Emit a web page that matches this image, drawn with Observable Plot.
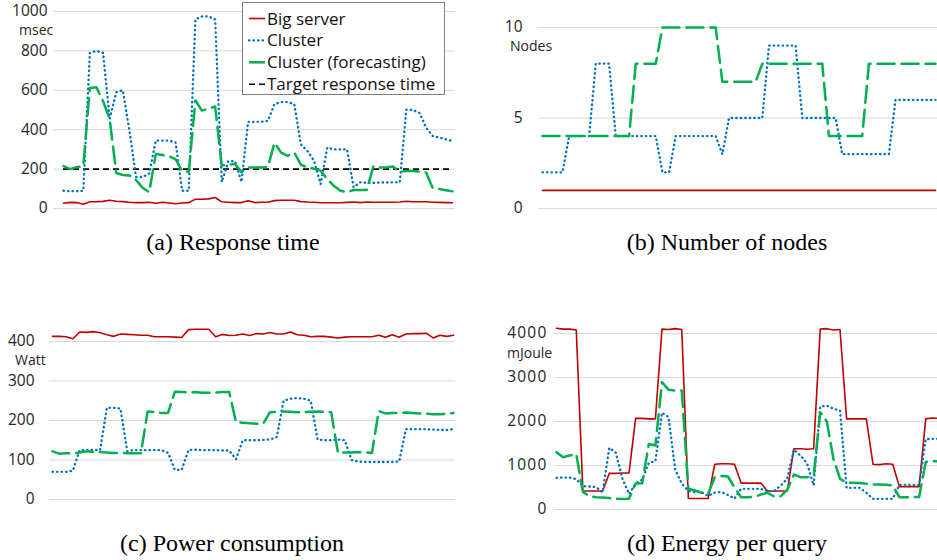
<!DOCTYPE html>
<html><head><meta charset="utf-8">
<script src="https://cdn.jsdelivr.net/npm/d3@7"></script>
<script src="https://cdn.jsdelivr.net/npm/@observablehq/plot@0.6"></script>
<style>
html,body{margin:0;padding:0;background:#fff;}
#fig{position:relative;width:937px;height:560px;overflow:hidden;background:#fff;}
#fig .panel{position:absolute;}
#fig svg.overlay{position:absolute;left:0;top:0;pointer-events:none;}
</style></head><body><div id="fig"></div>
<script>
// ---------- data (one value per time step) ----------
const seriesNames = ["Big server", "Cluster", "Cluster (forecasting)", "Target response time"];
const unitLabels = ["msec", "Nodes", "Watt", "mJoule"];
const captions = ["(a) Response time", "(b) Number of nodes", "(c) Power consumption", "(d) Energy per query"];

const rtTicks = [0, 200, 400, 600, 800, 1000];
const nodeTicks = [0, 5, 10];
const powerTicks = [0, 100, 200, 300, 400];
const energyTicks = [0, 1000, 2000, 3000, 4000];

const targetResponse = 200;

const rtBig = [27,31,30,22,34,34,36,42,37,35, 32,30,30,32,27,32,28,24,28,30, 47,47,49,56,34,32,30,30,39,30, 32,32,40,42,42,42,35,33,32,29, 29,29,29,31,33,30,33,32,32,32, 32,33,37,34,34,34,32,31,30,29];
const rtCluster = [90,88,88,90,790,800,790,455,590,600, 395,160,160,177,345,345,345,335,90,90, 960,975,975,960,134,240,240,135,440,440, 440,445,530,540,540,530,326,292,242,124, 309,300,300,300,108,133,130,130,132,132, 133,133,502,500,485,410,368,360,351,343];
const rtForecast = [215,200,210,215,612,615,545,455,180,170, 168,145,105,83,277,272,265,250,190,186, 548,497,507,518,218,222,227,184,208,208, 208,210,334,284,267,284,222,208,202,192, 150,115,90,82,94,94,94,215,208,210, 213,185,192,190,187,183,104,99,93,87];

const nodesBig = [1,1,1,1,1,1,1,1,1,1, 1,1,1,1,1,1,1,1,1,1, 1,1,1,1,1,1,1,1,1,1, 1,1,1,1,1,1,1,1,1,1, 1,1,1,1,1,1,1,1,1,1, 1,1,1,1,1,1,1,1,1,1];
const nodesCluster = [2,2,2,2,4,4,4,4,8,8, 8,4,4,4,4,4,4,4,2,2, 4,4,4,4,4,4,4,3,5,5, 5,5,5,5,9,9,9,9,9,5, 5,5,5,5,5,3,3,3,3,3, 3,3,3,6,6,6,6,6,6,6];
const nodesForecast = [4,4,4,4,4,4,4,4,4,4, 4,4,4,4,8,8,8,8,10,10, 10,10,10,10,10,10,10,7,7,7, 7,7,7,8,8,8,8,8,8,8, 8,8,8,4,4,4,4,4,4,8, 8,8,8,8,8,8,8,8,8,8];

const pwBig = [413,413,412,407,424,423,425,422,417,413, 419,418,417,416,416,412,412,412,411,410, 430,431,431,431,412,418,415,416,419,415, 420,419,423,419,419,424,417,416,412,413, 413,411,409,411,412,412,412,412,416,411, 417,411,419,420,420,421,409,416,413,416];
const pwCluster = [70,70,70,73,125,125,126,125,232,232, 230,122,125,125,125,125,125,118,75,75, 125,126,125,125,125,124,124,102,150,150, 150,151,152,158,250,255,257,255,250,152, 150,150,152,150,100,96,95,95,95,95, 95,96,178,178,178,178,177,176,176,178];
const pwForecast = [122,116,117,117,119,122,121,120,119,118, 118,117,117,117,223,221,219,219,273,272, 271,272,270,270,271,272,272,196,194,193, 192,192,221,222,223,222,221,221,222,223, 222,221,118,119,119,120,119,118,224,218, 219,219,220,219,218,217,216,216,217,219];

const enBig = [4120,4100,4100,4080,420,420,420,420,820,820, 830,830,2070,2070,2060,2060,4100,4090,4110,4090, 250,250,250,250,1030,1040,1040,1030,600,600, 600,600,420,420,420,420,1380,1380,1370,1380, 4100,4110,4080,4090,2060,2060,2060,2060,1030,1020, 1040,1030,520,520,520,520,2060,2080,2070,2060];
const enCluster = [720,725,725,690,530,523,508,394,1400,1290, 700,350,590,680,1060,1100,2200,2100,900,590, 420,395,395,310,385,395,330,250,470,470, 470,470,417,420,540,700,1360,1230,1050,550, 2340,2360,2290,2250,492,492,492,380,242,242, 242,242,560,560,560,560,1600,1606,1606,1606];
const enForecast = [1303,1190,1227,1260,400,300,280,275,260,242, 240,245,590,598,1490,1455,2894,2720,2705,2705, 470,432,380,360,730,760,750,500,280,280, 285,340,380,295,300,450,795,735,735,760, 2212,2000,1150,700,606,606,600,583,568,570, 560,545,280,280,280,285,1080,1098,1100,1100];

// ---------- styles ----------
const lastIndex = rtBig.length - 1;
const styleBig = {stroke: "#c00000", strokeWidth: 1.6};
const styleCluster = {stroke: "#0070c0", strokeWidth: 2.3, strokeDasharray: "0.5 4", strokeLinecap: "round"};
const styleForecast = {stroke: "#00b050", strokeWidth: 2.5, strokeDasharray: "17 7"};
const styleTarget = {stroke: "#000", strokeWidth: 1.6, strokeDasharray: "6 4"};
const gridColor = "#d9d9d9";
const tickColor = "#262626";

const fig = document.getElementById("fig");

function seriesLine(values, style) {
  return Plot.line(values, {x: (d, i) => i, y: d => d, ...style});
}

function makePanel(cfg) {
  const chart = Plot.plot({
    width: cfg.width,
    height: cfg.height,
    marginLeft: cfg.frameLeft,
    marginRight: cfg.width - cfg.frameRight,
    marginTop: 0,
    marginBottom: 0,
    x: {domain: [0, lastIndex], range: cfg.xRange, axis: null},
    y: {domain: cfg.yDomain, range: cfg.yRange, axis: null},
    style: {background: "transparent", fontFamily: "'Open Sans', sans-serif", maxWidth: "none", overflow: "hidden"},
    marks: [
      Plot.ruleY(cfg.ticks, {stroke: gridColor, strokeWidth: 1}),
      Plot.text(cfg.ticks, {y: d => d, frameAnchor: "left", dx: -(cfg.frameLeft - cfg.labelRight), textAnchor: "end",
        text: d => String(d), fontSize: 15.5, fill: tickColor}),
      ...cfg.marks
    ]
  });
  const wrap = document.createElement("div");
  wrap.className = "panel";
  wrap.style.left = cfg.left + "px";
  wrap.style.top = cfg.top + "px";
  wrap.appendChild(chart);
  fig.appendChild(wrap);
  if (cfg.letterSpacing) {
    d3.select(chart).selectAll("text").style("letter-spacing", cfg.letterSpacing);
  }
  return chart;
}

// (a) Response time
makePanel({
  left: 0, top: 0, width: 470, height: 222,
  frameLeft: 53, frameRight: 455, labelRight: 47,
  xRange: [63, 452], yDomain: [0, 1000], yRange: [208, 11], ticks: rtTicks,
  marks: [
    Plot.ruleY([targetResponse], {x1: 0, x2: lastIndex, ...styleTarget}),
    seriesLine(rtBig, styleBig),
    seriesLine(rtCluster, styleCluster),
    seriesLine(rtForecast, styleForecast)
  ]
});

// (b) Number of nodes
makePanel({
  left: 470, top: 0, width: 467, height: 222,
  frameLeft: 68, frameRight: 467, labelRight: 52,
  xRange: [72, 465], yDomain: [0, 10], yRange: [208, 27], ticks: nodeTicks,
  marks: [
    seriesLine(nodesBig, styleBig),
    seriesLine(nodesCluster, styleCluster),
    seriesLine(nodesForecast, styleForecast)
  ]
});

// (c) Power consumption
makePanel({
  left: 0, top: 290, width: 470, height: 222,
  frameLeft: 49, frameRight: 455, labelRight: 34,
  xRange: [52, 453], yDomain: [0, 400], yRange: [209, 51], ticks: powerTicks,
  marks: [
    seriesLine(pwBig, styleBig),
    seriesLine(pwCluster, styleCluster),
    seriesLine(pwForecast, styleForecast)
  ]
});

// (d) Energy per query
makePanel({
  left: 470, top: 290, width: 467, height: 235,
  frameLeft: 84, frameRight: 467, labelRight: 77,
  xRange: [86, 475], yDomain: [0, 4000], yRange: [219, 43], ticks: energyTicks,
  letterSpacing: "1.2px",
  marks: [
    seriesLine(enBig, styleBig),
    seriesLine(enCluster, styleCluster),
    seriesLine(enForecast, styleForecast)
  ]
});

// ---------- overlay: unit labels, legend, captions ----------
const ov = d3.select(fig).append("svg")
  .attr("class", "overlay").attr("width", 937).attr("height", 560);

const unitPos = [[19, 35], [510, 51], [15, 365], [507, 358]];
unitLabels.forEach((t, k) => {
  ov.append("text").attr("x", unitPos[k][0]).attr("y", unitPos[k][1])
    .attr("font-family", "'Open Sans', sans-serif").attr("font-size", 14)
    .attr("fill", tickColor).text(t);
});

// legend
const lg = ov.append("g");
lg.append("rect").attr("x", 242.5).attr("y", 2.5).attr("width", 202).attr("height", 92)
  .attr("fill", "#fff").attr("stroke", "#7f7f7f").attr("stroke-width", 1);
const legendStyles = [styleBig, styleCluster, styleForecast, styleTarget];
seriesNames.forEach((name, k) => {
  const cy = 18.5 + k * 21.9;
  const s = legendStyles[k];
  lg.append("line").attr("x1", 249).attr("x2", 265).attr("y1", cy).attr("y2", cy)
    .attr("stroke", s.stroke).attr("stroke-width", s.strokeWidth)
    .attr("stroke-dasharray", k === 2 ? "16 0" : (s.strokeDasharray || null))
    .attr("stroke-linecap", s.strokeLinecap || null);
  lg.append("text").attr("x", 267).attr("y", cy + 6)
    .attr("font-family", "'Open Sans', sans-serif").attr("font-size", 17)
    .attr("fill", "#111").text(name);
});

// captions
const capPos = [[233, 250], [727, 250], [232, 551], [727, 551]];
captions.forEach((t, k) => {
  ov.append("text").attr("x", capPos[k][0]).attr("y", capPos[k][1])
    .attr("text-anchor", "middle")
    .attr("font-family", "'Liberation Serif', 'Times New Roman', serif").attr("font-size", 24)
    .attr("fill", "#000").text(t);
});
</script>
</body></html>
